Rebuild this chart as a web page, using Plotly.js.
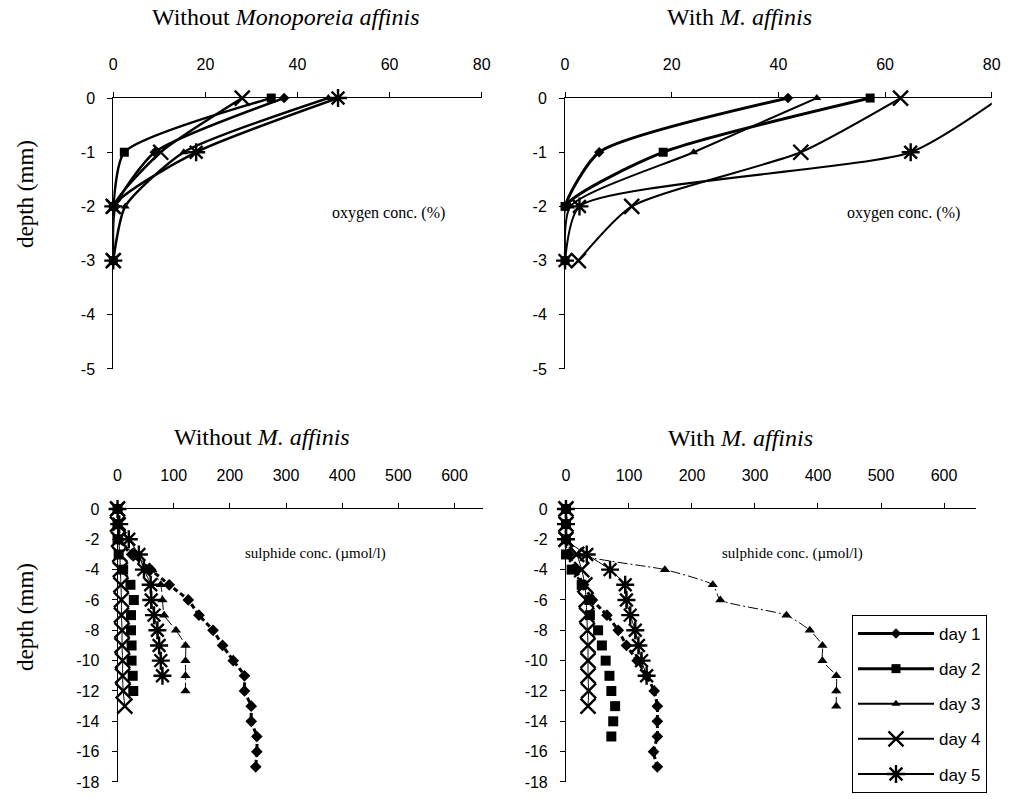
<!DOCTYPE html>
<html><head><meta charset="utf-8">
<script src="https://cdn.plot.ly/plotly-3.0.1.min.js"></script>
<style>html,body{margin:0;padding:0;background:#fff}#chart{width:1015px;height:799px}</style>
</head><body><div id="chart"></div>
<script>
// ---------- data ----------
const dayNames = ['day 1', 'day 2', 'day 3', 'day 4', 'day 5'];

// oxygen (%) at depths 0, -1, -2, -3 mm
const oxyDepth = [0, -1, -2, -3];
const oxyWithoutDay1 = [37.1, 9, 0.5, 0];
const oxyWithoutDay2 = [34.3, 2.4, 0, 0];
const oxyWithoutDay3 = [46.7, 15.3, 2.6, 0];
const oxyWithoutDay4 = [28, 10.3, 0, 0];
const oxyWithoutDay5 = [48.8, 18, 0, 0];

const oxyWithDay1 = [41.8, 6.4, 0, 0];
const oxyWithDay2 = [57.2, 18.4, 0, 0];
const oxyWithDay3 = [47.2, 24.1, 1, 0];
const oxyWithDay4 = [62.9, 44.2, 12.5, 2.5];
const oxyWithDay5 = [81.5, 64.8, 2.7, 0];

// sulphide (umol/l) at depths 0, -1, -2, ... mm
const sulDepth = [0, -1, -2, -3, -4, -5, -6, -7, -8, -9, -10, -11, -12, -13, -14, -15, -16, -17];
const sulWithoutDay1 = [0, 0, 3, 25, 59, 92, 126, 145, 170, 187, 206, 226, 226, 238, 238, 248, 248, 246];
const sulWithoutDay2 = [0, 0, 0, 2, 10, 23, 29, 24, 24, 25, 25, 27, 28];
const sulWithoutDay3 = [0, 0, 3, 30, 62, 77, 80, 83, 104, 121, 121, 121, 121];
const sulWithoutDay4 = [0, 0, 2, 4, 5, 6, 7, 7, 8, 8, 9, 9, 10, 13];
const sulWithoutDay5 = [0, 3, 20, 38, 47, 59, 60, 65, 71, 74, 77, 80];

const sulWithDay1 = [0, 0, 0, 5, 15, 28, 42, 65, 83, 96, 113, 128, 140, 145, 145, 145, 139, 145];
const sulWithDay2 = [0, 0, 0, 0, 9, 25, 37, 38, 51, 57, 63, 69, 72, 78, 75, 72];
const sulWithDay3 = [0, 0, 0, 20, 157, 233, 245, 350, 387, 407, 407, 429, 429, 429];
const sulWithDay4 = [0, 0, 0, 17, 25, 30, 32, 33, 34, 35, 35, 35, 36, 35];
const sulWithDay5 = [0, 0, 0, 33, 70, 94, 96, 102, 110, 115, 120, 128];

// tick labels
const oxyTickVals = [0, 20, 40, 60, 80];
const sulTickVals = [0, 100, 200, 300, 400, 500, 600];
const oxyDepthTicks = [0, -1, -2, -3, -4, -5];
const oxyDepthLabels = ['0', '-1', '-2', '-3', '-4', '-5'];
const sulDepthTicks = [0, -2, -4, -6, -8, -10, -12, -14, -16, -18];
const sulDepthLabels = ['0', '-2', '-4', '-6', '-8', '-10', '-12', '-14', '-16', '-18'];

// ---------- styles ----------
const symbols = ['diamond', 'square', 'triangle-up', 'x-thin-open', 'asterisk-open'];
const topSizes = [8, 9, 8, 15, 15];
const botSizes = [9, 10, 9, 15, 15];
const botLines = [
  {width: 3, dash: '5px,3px'},
  null,
  {width: 1, dash: '10px,3px,2px,3px'},
  {width: 1, dash: 'solid'},
  {width: 1, dash: 'solid'}
];

function marker(i, sizes) {
  const open = i >= 3;
  return {
    symbol: symbols[i], size: sizes[i], color: '#000',
    line: {color: '#000', width: open ? 2.4 : 0}
  };
}

const traces = [];
const oxyWithout = [oxyWithoutDay1, oxyWithoutDay2, oxyWithoutDay3, oxyWithoutDay4, oxyWithoutDay5];
const oxyWith = [oxyWithDay1, oxyWithDay2, oxyWithDay3, oxyWithDay4, oxyWithDay5];
const sulWithout = [sulWithoutDay1, sulWithoutDay2, sulWithoutDay3, sulWithoutDay4, sulWithoutDay5];
const sulWith = [sulWithDay1, sulWithDay2, sulWithDay3, sulWithDay4, sulWithDay5];

oxyWithout.forEach((v, i) => traces.push({
  x: v, y: oxyDepth, xaxis: 'x', yaxis: 'y', type: 'scatter', mode: 'lines+markers',
  line: {color: '#000', width: 2.5, shape: 'spline', smoothing: 0.6},
  marker: marker(i, topSizes), cliponaxis: false, showlegend: false, hoverinfo: 'skip'
}));
oxyWith.forEach((v, i) => traces.push({
  x: v, y: oxyDepth, xaxis: 'x2', yaxis: 'y2', type: 'scatter', mode: 'lines+markers',
  name: dayNames[i], legendgroup: 'g' + i,
  line: {color: '#000', width: i < 2 ? 3 : 2, shape: 'spline', smoothing: 0.6},
  marker: marker(i, topSizes), cliponaxis: false, showlegend: true, hoverinfo: 'skip'
}));
function sulTrace(v, i, xa, ya) {
  const ls = botLines[i];
  return {
    x: v, y: sulDepth.slice(0, v.length), xaxis: xa, yaxis: ya, type: 'scatter',
    mode: ls ? 'lines+markers' : 'markers',
    line: ls ? {color: '#000', width: ls.width, dash: ls.dash, shape: 'spline', smoothing: 0.5} : undefined,
    marker: marker(i, botSizes), cliponaxis: false, showlegend: false, hoverinfo: 'skip'
  };
}
sulWithout.forEach((v, i) => traces.push(sulTrace(v, i, 'x3', 'y3')));
sulWith.forEach((v, i) => traces.push(sulTrace(v, i, 'x4', 'y4')));

// ---------- layout ----------
const tickFont = {family: 'Liberation Sans, Arial, sans-serif', size: 16, color: '#000'};
const serif = 'Liberation Serif, Times New Roman, serif';
function xAxis(domain, range, tickvals, anchor) {
  return {
    domain: domain, range: range, anchor: anchor, side: 'top', tickvals: tickvals,
    showline: true, linecolor: '#000', linewidth: 1, ticks: 'outside', ticklen: 5, tickcolor: '#000',
    tickfont: tickFont, ticklabelstandoff: 16, showgrid: false, zeroline: false, fixedrange: true
  };
}
function yAxis(domain, range, tickvals, ticktext, anchor) {
  return {
    domain: domain, range: range, anchor: anchor, tickvals: tickvals, ticktext: ticktext,
    showline: true, linecolor: '#000', linewidth: 1, ticks: 'outside', ticklen: 5, tickcolor: '#000',
    tickfont: tickFont, ticklabelstandoff: 9, showgrid: false, zeroline: false, fixedrange: true
  };
}
const topDom = [0.5382, 0.8773];
const botDom = [0.0213, 0.3630];

function ann(text, x, y, size, extra) {
  return Object.assign({
    text: text, x: x, y: y, xref: 'paper', yref: 'paper', showarrow: false,
    xanchor: 'center', yanchor: 'middle', font: {family: serif, size: size, color: '#000'}
  }, extra || {});
}

const layout = {
  width: 1015, height: 799,
  margin: {l: 0, r: 0, t: 0, b: 0},
  paper_bgcolor: '#fff', plot_bgcolor: 'rgba(0,0,0,0)',
  xaxis: xAxis([0.1116, 0.4746], [0, 80], oxyTickVals, 'y'),
  yaxis: yAxis(topDom, [-5, 0], oxyDepthTicks, oxyDepthLabels, 'x'),
  xaxis2: xAxis([0.5567, 0.9771], [0, 80], oxyTickVals, 'y2'),
  yaxis2: yAxis(topDom, [-5, 0], oxyDepthTicks, oxyDepthLabels, 'x2'),
  xaxis3: xAxis([0.1158, 0.4755], [0, 650], sulTickVals, 'y3'),
  yaxis3: yAxis(botDom, [-18, 0], sulDepthTicks, sulDepthLabels, 'x3'),
  xaxis4: xAxis([0.5576, 0.9611], [0, 650], sulTickVals, 'y4'),
  yaxis4: yAxis(botDom, [-18, 0], sulDepthTicks, sulDepthLabels, 'x4'),
  showlegend: true,
  legend: {
    x: 0.8394, y: 0.2303, xanchor: 'left', yanchor: 'top',
    bgcolor: '#fff', bordercolor: '#000', borderwidth: 1,
    font: {family: 'Liberation Sans, Arial, sans-serif', size: 17, color: '#000'},
    traceorder: 'grouped', tracegroupgap: 10, itemwidth: 76
  },
  annotations: [
    ann('Without <i>Monoporeia affinis</i>', 0.2808, 0.9787, 24),
    ann('With <i>M. affinis</i>', 0.729, 0.9787, 24),
    ann('Without <i>M. affinis</i>', 0.258, 0.4531, 24),
    ann('With <i>M. affinis</i>', 0.730, 0.4518, 24),
    ann('oxygen conc. (%)', 388 / 1015, 1 - 213 / 799, 16),
    ann('oxygen conc. (%)', 903 / 1015, 1 - 213 / 799, 16),
    ann('sulphide conc. (µmol/l)', 315 / 1015, 1 - 553 / 799, 15),
    ann('sulphide conc. (µmol/l)', 792 / 1015, 1 - 553 / 799, 15),
    ann('depth (mm)', 25 / 1015, 1 - 194 / 799, 23, {textangle: -90}),
    ann('depth (mm)', 25 / 1015, 1 - 617 / 799, 23, {textangle: -90})
  ]
};

Plotly.newPlot('chart', traces, layout, {staticPlot: true, displayModeBar: false});
</script>
</body></html>
